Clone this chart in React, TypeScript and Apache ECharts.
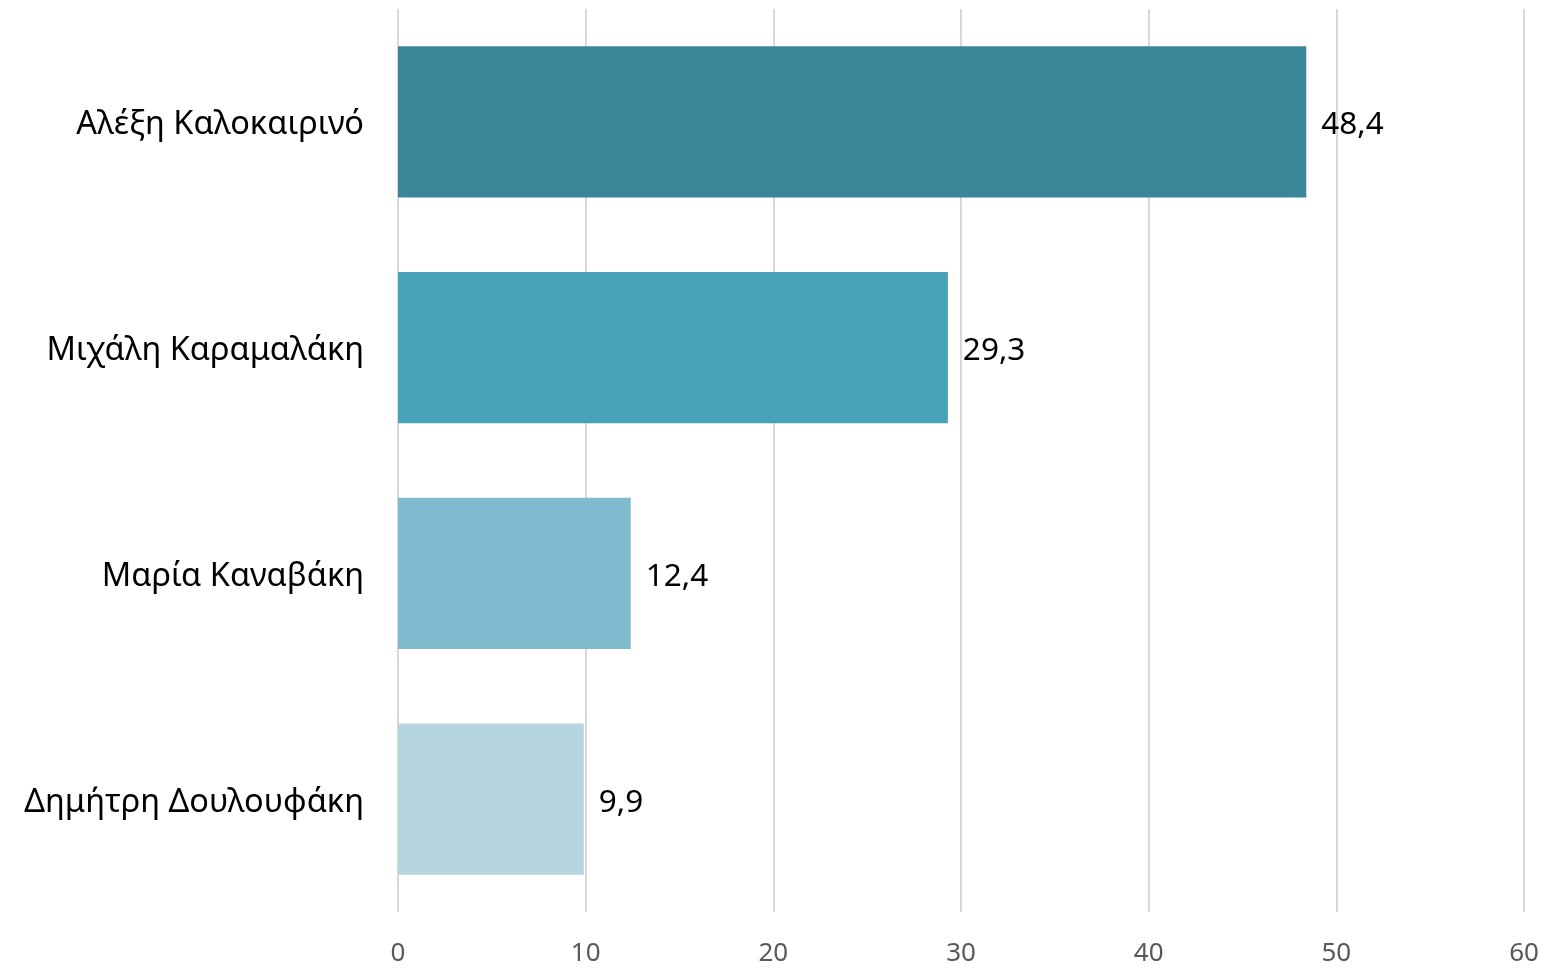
import React, { useEffect, useRef } from "react";
import * as echarts from "echarts";

const categories = ["Αλέξη Καλοκαιρινό", "Μιχάλη Καραμαλάκη", "Μαρία Καναβάκη", "Δημήτρη Δουλουφάκη"];
const values = [48.4, 29.3, 12.4, 9.9];
const barColors = ["#3A8799", "#48A2B9", "#7FBACE", "#B5D5E0"];
const xTicks = [0, 10, 20, 30, 40, 50, 60];

export default function App() {
  const ref = useRef<HTMLDivElement>(null);
  useEffect(() => {
    if (!ref.current) return;
    const chart = echarts.init(ref.current, null, { renderer: "svg" });
    chart.setOption({
      animation: false,
      textStyle: { fontFamily: "Noto Sans" },
      grid: { left: 398, right: 23, top: 9, bottom: 57, containLabel: false },
      xAxis: {
        type: "value",
        min: xTicks[0],
        max: xTicks[xTicks.length - 1],
        interval: 10,
        axisLine: { show: false },
        axisTick: { show: false },
        splitLine: { show: true, lineStyle: { color: "#D9D9D9", width: 2 } },
        axisLabel: { color: "#595959", fontSize: 26, margin: 26, fontFamily: "Noto Sans" },
      },
      yAxis: {
        type: "category",
        data: categories,
        inverse: true,
        axisLine: { show: false },
        axisTick: { show: false },
        axisLabel: { color: "#000000", fontSize: 32.5, margin: 34, fontFamily: "Noto Sans" },
      },
      series: [
        {
          type: "bar",
          barWidth: "67%",
          data: values.map((v, i) => ({ value: v, itemStyle: { color: barColors[i] } })),
          label: {
            show: true,
            position: "right",
            distance: 15,
            color: "#000000",
            fontSize: 31.5,
            fontFamily: "Noto Sans",
            formatter: (p: any) => String(p.value).replace(".", ","),
          },
        },
      ],
    });
    return () => chart.dispose();
  }, []);
  return <div ref={ref} style={{ position: "fixed", left: 0, top: 0, width: 1547, height: 969 }} />;
}
